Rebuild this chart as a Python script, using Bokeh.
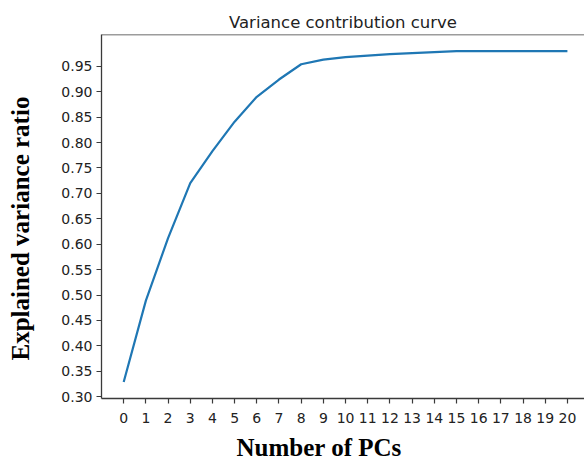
from bokeh.plotting import figure
from bokeh.models import Range1d, FixedTicker, Span, ColumnDataSource, Title, NumeralTickFormatter
from bokeh.embed import file_html
from bokeh.resources import INLINE

# ---- data ----
pcs = list(range(21))
ratio = [0.329, 0.489, 0.612, 0.720, 0.783, 0.841, 0.890, 0.924, 0.954, 0.963,
         0.968, 0.971, 0.974, 0.976, 0.978, 0.980, 0.980, 0.980, 0.980, 0.980, 0.980]
y_ticks = [0.30, 0.35, 0.40, 0.45, 0.50, 0.55, 0.60, 0.65, 0.70, 0.75, 0.80, 0.85, 0.90, 0.95]
title_text = "Variance contribution curve"
x_label_text = "Number of PCs"
y_label_text = "Explained variance ratio"

span_y = max(ratio) - min(ratio)
y_start = min(ratio) - 0.05 * span_y
y_end = max(ratio) + 0.05 * span_y

p = figure(width=584, height=463, output_backend="svg", toolbar_location=None,
           x_range=Range1d(-1, 20.77), y_range=Range1d(y_start, y_end),
           min_border_left=101, min_border_right=0, min_border_top=34, min_border_bottom=65)
p.title = Title(text=title_text, align="center", text_font="DejaVu Sans",
                text_font_size="16.5px", text_font_style="normal", text_color="#222222",
                standoff=5)
p.outline_line_color = None
p.background_fill_color = "white"
p.border_fill_color = "white"
p.xgrid.grid_line_color = None
p.ygrid.grid_line_color = None

src = ColumnDataSource(dict(x=pcs, y=ratio))
p.line("x", "y", source=src, line_color="#1f77b4", line_width=2.2)

for ax in (p.xaxis[0], p.yaxis[0]):
    ax.axis_line_color = "#3a3a3a"
    ax.axis_line_width = 1.3
    ax.major_tick_line_color = "#3a3a3a"
    ax.major_tick_line_width = 1.2
    ax.major_tick_out = 5
    ax.major_tick_in = 0
    ax.minor_tick_line_color = None
    ax.major_label_text_font = "DejaVu Sans"
    ax.major_label_text_font_size = "14px"
    ax.major_label_text_color = "#222222"
    ax.major_label_standoff = 4
    # blank axis label used only as a spacer between tick labels and the bold titles
    ax.axis_label = " "
    ax.axis_label_text_font_size = "1px"

p.xaxis[0].major_label_standoff = 9
p.xaxis[0].axis_label_standoff = 4
p.yaxis[0].axis_label_standoff = 20

p.xaxis[0].ticker = FixedTicker(ticks=pcs)
p.yaxis[0].ticker = FixedTicker(ticks=y_ticks)
p.yaxis[0].formatter = NumeralTickFormatter(format="0.00")

# top spine
p.add_layout(Span(location=y_end, dimension="width", line_color="#3a3a3a", line_width=1.3))

# axis titles (bold serif, as in the reference)
p.add_layout(Title(text=x_label_text, align="left", offset=135, standoff=0, vertical_align="top",
                   text_font="Liberation Serif", text_font_style="bold",
                   text_font_size="25px", text_color="#000000"), "below")
p.add_layout(Title(text=y_label_text, align="left", offset=38, standoff=2, vertical_align="bottom",
                   text_font="Liberation Serif", text_font_style="bold",
                   text_font_size="25px", text_color="#000000"), "left")

open("out.html", "w").write(file_html(p, INLINE))
